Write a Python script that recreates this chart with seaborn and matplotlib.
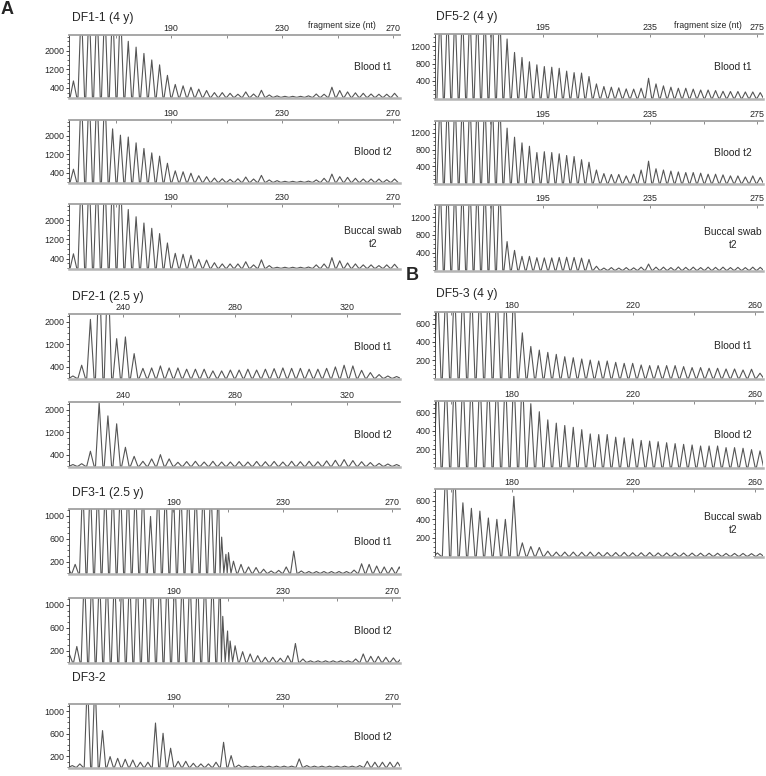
import numpy as np
import matplotlib
matplotlib.use("Agg")
import matplotlib.pyplot as plt
import seaborn as sns
from matplotlib.ticker import FixedLocator, MultipleLocator

# ---- peak heights (RFU); peaks above the
# ---- axis top are off-scale and get clipped by the axes
DF1_1_START, DF1_1_STEP = 154.8, 2.823
DF1_1_BLOOD_T1 = [700, 4000, 4000, 4000, 4000, 4000, 4000, 2400, 2150, 1880, 1600, 1390, 940, 550,
                  490, 430, 350, 290, 200, 200, 170, 130, 230, 140, 300, 100, 60, 40, 40, 40, 60,
                  140, 130, 430, 290, 230, 190, 170, 140, 130, 130, 170]
DF1_1_BLOOD_T2 = [560, 4000, 4000, 4000, 4000, 2290, 2020, 1940, 1690, 1450, 1260, 1120, 815, 490,
                  450, 390, 280, 240, 180, 150, 125, 150, 225, 140, 295, 100, 70, 40, 40, 40, 50,
                  100, 170, 350, 240, 210, 170, 140, 140, 140, 110, 140]
DF1_1_BUCCAL_T2 = [600, 4000, 4000, 4000, 4000, 4000, 4000, 2440, 2140, 1880, 1660, 1440, 1050, 620,
                   580, 540, 370, 340, 230, 180, 180, 180, 270, 140, 350, 110, 40, 40, 40, 40, 50,
                   140, 180, 440, 310, 220, 180, 140, 140, 110, 140, 165]

DF2_1_START, DF2_1_STEP = 222.0, 3.124
DF2_1_BLOOD_T1 = [80, 460, 2080, 4000, 4000, 1400, 1460, 870, 350, 365, 435, 365, 365, 320, 320,
                  320, 260, 260, 290, 290, 320, 290, 320, 340, 365, 350, 350, 320, 320, 350, 400,
                  460, 435, 280, 200, 130, 80, 60, 40]
DF2_1_BLOOD_T2 = [60, 90, 530, 2250, 1780, 1500, 670, 350, 175, 260, 410, 260, 140, 165, 175, 150,
                  175, 150, 150, 165, 150, 170, 160, 170, 150, 175, 160, 175, 160, 190, 210, 235,
                  200, 160, 130, 100, 80, 60, 40]

DF3_1_STEP = 2.76
DF3_1_T1_START, DF3_1_T2_START = 151.3, 151.9
DF3_1_BLOOD_T1 = [120, 155] + [1600] * 9 + [990] + [1600] * 9 + \
                 [330, 210, 155, 110, 100, 70, 40, 50, 110, 385, 40, 30, 30, 30, 30, 30, 30,
                  55, 165, 155, 126, 110, 100, 110]
DF3_1_T1_EXTRA_POS, DF3_1_T1_EXTRA_H = [207.7, 210.2], [630, 360]
DF3_1_BLOOD_T2 = [145, 275] + [1600] * 19 + \
                 [545, 287, 184, 145, 115, 86, 86, 70, 115, 327, 57, 25, 25, 25, 25, 25, 25,
                  57, 145, 103, 103, 86, 75, 60]
DF3_1_T2_EXTRA_POS, DF3_1_T2_EXTRA_H = [208.1, 210.8], [800, 370]

DF3_2_START, DF3_2_STEP = 153.0, 2.77
DF3_2_BLOOD_T2 = [30, 60, 1600, 1600, 655, 190, 160, 143, 130, 90, 90, 790, 607, 340, 107, 107, 71,
                  60, 60, 90, 446, 208, 40, 20, 20, 20, 20, 20, 20, 20, 150, 30, 20, 20, 20, 20,
                  20, 20, 30, 107, 90, 90, 90, 90]

DF5_2_START, DF5_2_STEP = 156.5, 2.783
DF5_2_BLOOD_T1 = [2100] * 9 + [1365, 1055, 940, 840, 770, 730, 715, 690, 625, 590, 580, 500, 330,
                              270, 255, 240, 215, 210, 230, 460, 330, 285, 255, 230, 230, 210,
                              190, 190, 177, 160, 155, 155, 145, 145, 130]
DF5_2_BLOOD_T2 = [2100] * 9 + [1310, 1095, 960, 880, 730, 750, 730, 700, 660, 635, 560, 500, 315,
                              230, 210, 210, 175, 215, 315, 525, 345, 315, 290, 270, 255, 255,
                              240, 215, 215, 200, 175, 175, 150, 175, 140]
DF5_2_BUCCAL_T2 = [2100] * 9 + [650, 450, 315, 315, 285, 280, 280, 290, 295, 290, 275, 245, 90,
                               50, 60, 50, 60, 55, 70, 140, 70, 70, 60, 75, 65, 70, 60, 70, 65,
                               70, 60, 65, 60, 70, 65]

DF5_3_START, DF5_3_STEP = 155.6, 2.79
DF5_3_BLOOD_T1 = [1050] * 10 + [500, 350, 310, 285, 263, 237, 226, 212, 200, 190, 190, 175, 164,
                               164, 146, 139, 139, 139, 139, 128, 117, 117, 110, 110, 102, 102,
                               91, 99, 55]
DF5_3_BLOOD_T2 = [1050] * 11 + [700, 612, 522, 486, 460, 440, 414, 367, 360, 360, 331, 324, 313,
                               295, 288, 281, 270, 260, 252, 245, 234, 234, 234, 216, 216, 209,
                               194, 180]
DF5_3_BUCCAL_T2 = [35, 1050, 1050, 580, 520, 490, 415, 400, 400, 650, 145, 105, 95, 55, 45, 45, 45,
                   43, 45, 42, 40, 40, 42, 38, 38, 40, 36, 36, 35, 35, 34, 33, 32, 32, 30, 30, 30,
                   28, 28]

W, H = 766, 776
LEFT_X, RIGHT_X = (69, 400), (435, 763)


def peak_trace(start, step, heights, extra_pos=(), extra_h=()):
    """Turn a list of peak heights into the vertices of an electropherogram trace."""
    pos = np.concatenate([start + step * np.arange(len(heights)), np.asarray(extra_pos, float)])
    h = np.concatenate([np.asarray(heights, float), np.asarray(extra_h, float)])
    order = np.argsort(pos)
    pos, h = pos[order], h[order]
    w = 0.42 * step
    xs, ys = [], []
    for i, (p, v) in enumerate(zip(pos, h)):
        left, right = p - w, p + w
        if i > 0:
            left = max(left, (pos[i - 1] + p) / 2)
        if i < len(pos) - 1:
            right = min(right, (pos[i + 1] + p) / 2)
        xs += [left, p, right]
        ys += [0, v, 0]
    return xs, ys


def px_axes(fig, cols, top, bottom):
    x0, x1 = cols
    return fig.add_axes([x0 / W, 1 - bottom / H, (x1 - x0) / W, (bottom - top) / H])


sns.set_style("white")
plt.rcParams['font.family'] = ['Liberation Sans', 'DejaVu Sans']

fig = plt.figure(figsize=(W / 100, H / 100), dpi=100)

# (column, top, bottom, start, step, heights, extras, xlim, ytop, xticks, yticks, yminor, label)
panels = [
    (LEFT_X, 35, 98, DF1_1_START, DF1_1_STEP, DF1_1_BLOOD_T1, None, (153.2, 272.5), 2670,
     [190, 230, 270], [400, 1200, 2000], 200, "Blood t1"),
    (LEFT_X, 120, 183, DF1_1_START, DF1_1_STEP, DF1_1_BLOOD_T2, None, (153.2, 272.5), 2670,
     [190, 230, 270], [400, 1200, 2000], 200, "Blood t2"),
    (LEFT_X, 204, 269, DF1_1_START, DF1_1_STEP, DF1_1_BUCCAL_T2, None, (153.2, 272.5), 2670,
     [190, 230, 270], [400, 1200, 2000], 200, "Buccal swab\nt2"),
    (LEFT_X, 314, 379, DF2_1_START, DF2_1_STEP, DF2_1_BLOOD_T1, None, (220.6, 338.8), 2270,
     [240, 280, 320], [400, 1200, 2000], 200, "Blood t1"),
    (LEFT_X, 402, 467, DF2_1_START, DF2_1_STEP, DF2_1_BLOOD_T2, None, (220.6, 338.8), 2270,
     [240, 280, 320], [400, 1200, 2000], 200, "Blood t2"),
    (LEFT_X, 509, 574, DF3_1_T1_START, DF3_1_STEP, DF3_1_BLOOD_T1,
     (DF3_1_T1_EXTRA_POS, DF3_1_T1_EXTRA_H), (151.8, 273.0), 1120,
     [190, 230, 270], [200, 600, 1000], 100, "Blood t1"),
    (LEFT_X, 598, 663, DF3_1_T2_START, DF3_1_STEP, DF3_1_BLOOD_T2,
     (DF3_1_T2_EXTRA_POS, DF3_1_T2_EXTRA_H), (151.8, 273.0), 1120,
     [190, 230, 270], [200, 600, 1000], 100, "Blood t2"),
    (LEFT_X, 704, 768, DF3_2_START, DF3_2_STEP, DF3_2_BLOOD_T2, None, (151.8, 273.0), 1130,
     [190, 230, 270], [200, 600, 1000], 100, "Blood t2"),
    (RIGHT_X, 34, 99, DF5_2_START, DF5_2_STEP, DF5_2_BLOOD_T1, None, (154.6, 277.2), 1480,
     [195, 235, 275], [400, 800, 1200], 100, "Blood t1"),
    (RIGHT_X, 121, 184, DF5_2_START, DF5_2_STEP, DF5_2_BLOOD_T2, None, (154.6, 277.2), 1480,
     [195, 235, 275], [400, 800, 1200], 100, "Blood t2"),
    (RIGHT_X, 205, 271, DF5_2_START, DF5_2_STEP, DF5_2_BUCCAL_T2, None, (154.6, 277.2), 1480,
     [195, 235, 275], [400, 800, 1200], 100, "Buccal swab\nt2"),
    (RIGHT_X, 312, 379, DF5_3_START, DF5_3_STEP, DF5_3_BLOOD_T1, None, (154.8, 262.6), 730,
     [180, 220, 260], [200, 400, 600], 50, "Blood t1"),
    (RIGHT_X, 401, 468, DF5_3_START, DF5_3_STEP, DF5_3_BLOOD_T2, None, (154.8, 262.6), 730,
     [180, 220, 260], [200, 400, 600], 50, "Blood t2"),
    (RIGHT_X, 489, 557, DF5_3_START, DF5_3_STEP, DF5_3_BUCCAL_T2, None, (154.8, 262.6), 730,
     [180, 220, 260], [200, 400, 600], 50, "Buccal swab\nt2"),
]

for (cols, top, bottom, start, step, heights, extra, xlim, ytop,
     xticks, yticks, yminor, label) in panels:
    ax = px_axes(fig, cols, top, bottom)
    if extra is None:
        xs, ys = peak_trace(start, step, heights)
    else:
        xs, ys = peak_trace(start, step, heights, extra[0], extra[1])
    sns.lineplot(x=xs, y=ys, ax=ax, color='#555555', linewidth=0.8,
                 sort=False, estimator=None)
    ax.set_xlim(*xlim)
    ax.set_ylim(-0.012 * ytop, ytop)

    # fragment size axis on top
    ax.xaxis.tick_top()
    ax.set_xticks(xticks)
    half = (xticks[1] - xticks[0]) / 2
    minor = [t - half for t in xticks] + [xticks[-1] + half]
    ax.xaxis.set_minor_locator(FixedLocator([m for m in minor if xlim[0] < m < xlim[1]]))
    ax.tick_params(axis='x', which='both', direction='in', length=2.5, width=0.6,
                   color='#777777', pad=1.5, labelsize=6.4, bottom=False, top=True)
    ax.set_yticks(yticks)
    ax.yaxis.set_minor_locator(MultipleLocator(yminor))
    ax.tick_params(axis='y', which='major', direction='out', length=2.5, width=0.6,
                   pad=0.8, labelsize=6.4, left=True)
    ax.tick_params(axis='y', which='minor', direction='out', length=1.4, width=0.5, left=True)
    ax.set_xlabel('')
    ax.set_ylabel('')

    ax.spines['right'].set_visible(False)
    ax.spines['top'].set_color('#a0a0a0')
    ax.spines['top'].set_linewidth(1.3)
    ax.spines['bottom'].set_color('#b4b4b4')
    ax.spines['bottom'].set_linewidth(1.8)
    ax.spines['left'].set_color('#333333')
    ax.spines['left'].set_linewidth(0.6)

    fx = 0.918 if cols == LEFT_X else 0.909
    ax.text(fx, 0.49, label, transform=ax.transAxes, ha='center', va='center',
            fontsize=7.4, linespacing=1.35)

# sample titles and panel letters
titles = [("DF1-1 (4 y)", 72, 18), ("DF2-1 (2.5 y)", 72, 297), ("DF3-1 (2.5 y)", 72, 493),
          ("DF3-2", 72, 678), ("DF5-2 (4 y)", 436, 17), ("DF5-3 (4 y)", 436, 294)]
for txt, x, y in titles:
    fig.text(x / W, 1 - y / H, txt, ha='left', va='center', fontsize=8.7)

fig.text(342 / W, 1 - 26 / H, "fragment size (nt)", ha='center', va='center', fontsize=6.2)
fig.text(708 / W, 1 - 26 / H, "fragment size (nt)", ha='center', va='center', fontsize=6.2)
fig.text(1 / W, 1 - 10 / H, "A", ha='left', va='center', fontsize=13, fontweight='bold')
fig.text(406 / W, 1 - 275.5 / H, "B", ha='left', va='center', fontsize=13, fontweight='bold')

fig.savefig("out.png", dpi=100)
